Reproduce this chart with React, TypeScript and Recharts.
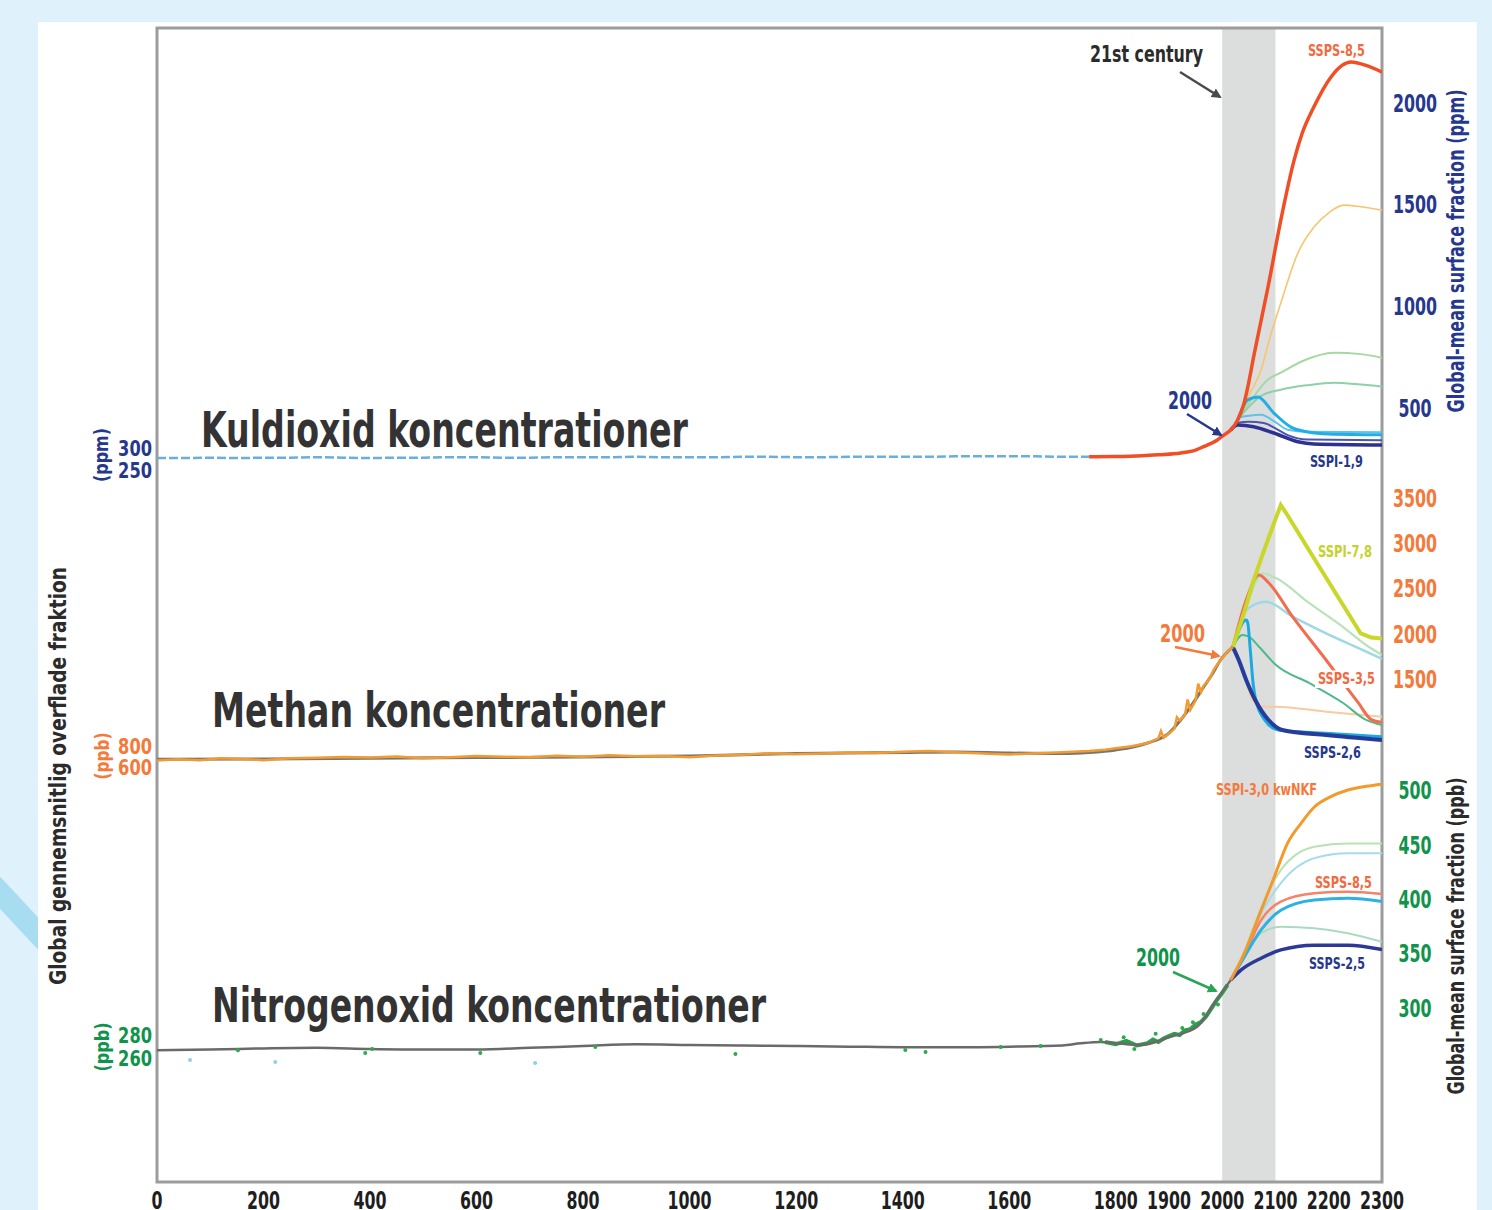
import * as React from "react";
import { ComposedChart, Line, ReferenceArea, Scatter, XAxis, YAxis } from "recharts";

const FONT = '"Liberation Sans Narrow", "DejaVu Sans Condensed", sans-serif';
const NAVY = "#26388d";
const ORANGE = "#f47a3c";
const RED_TXT = "#f26a3f";
const GREEN = "#10934a";
const LIME = "#c3d22c";
const INK = "#2b2b2b";

const xTicks = [0, 200, 400, 600, 800, 1000, 1200, 1400, 1600, 1800, 1900, 2000, 2100, 2200, 2300];

// CO2 (ppm) - pre-industrial record read against the small left scale
const co2Historic = [
  [0, 277], [50, 277], [100, 278], [150, 277], [200, 278], [250, 278], [300, 279], [350, 278],
  [400, 277], [450, 278], [500, 278], [550, 279], [600, 279], [650, 278], [700, 278], [750, 279],
  [800, 279], [850, 279], [900, 280], [950, 279], [1000, 279], [1050, 279], [1100, 280], [1150, 280],
  [1200, 279], [1250, 279], [1300, 280], [1350, 280], [1400, 280], [1450, 280], [1500, 281],
  [1550, 281], [1600, 281], [1650, 281], [1700, 280], [1750, 280]
];
// scenarios, right scale
const co2Ssp585 = [
  [1750, 260], [1800, 261], [1850, 265], [1880, 270], [1922, 279], [1950, 293], [1965, 310],
  [1991, 343], [2003, 367], [2016, 392], [2029, 441], [2041, 524], [2048, 603], [2060, 765],
  [2073, 930], [2086, 1095], [2110, 1424], [2135, 1719], [2150, 1850], [2172, 1980], [2204, 2127],
  [2225, 2185], [2242, 2202], [2270, 2185], [2300, 2152]
];
const co2Ssp370 = [[2029, 441], [2041, 505], [2050, 560], [2073, 687], [2090, 850], [2110, 1016], [2142, 1262], [2172, 1389], [2200, 1460], [2228, 1498], [2260, 1490], [2300, 1473]];
const co2GreenHigh = [[2029, 441], [2041, 490], [2059, 556], [2086, 640], [2110, 674], [2150, 730], [2210, 772], [2260, 765], [2300, 747]];
const co2GreenLow = [[2029, 441], [2041, 480], [2059, 530], [2073, 560], [2110, 590], [2160, 612], [2210, 624], [2260, 615], [2300, 605]];
const co2Ssp126 = [[2029, 441], [2048, 540], [2067, 554], [2097, 475], [2129, 406], [2161, 382], [2200, 372], [2300, 368]];
const co2CyanThin = [[2029, 441], [2035, 455], [2050, 462], [2073, 467], [2100, 430], [2123, 393], [2160, 383], [2300, 381]];
const co2NavyThin = [[2025, 425], [2050, 432], [2078, 426], [2100, 400], [2123, 367], [2160, 345], [2300, 342]];
const co2Ssp119 = [[2016, 392], [2029, 416], [2059, 408], [2097, 377], [2142, 334], [2172, 323], [2300, 318]];

// Methane (ppb) - records on the left scale
const ch4Smooth = [
  [0, 680], [200, 684], [400, 690], [600, 696], [800, 702], [1000, 711], [1200, 735], [1400, 745],
  [1500, 750], [1600, 740], [1700, 735], [1750, 745], [1800, 769], [1860, 835], [1900, 930],
  [1922, 1054], [1950, 1250], [1965, 1368], [1980, 1480], [1997, 1626], [2020, 1750]
];
const ch4Records = [
  [0, 668], [40, 680], [80, 672], [120, 690], [160, 684], [200, 672], [250, 690], [300, 695],
  [350, 702], [400, 698], [450, 706], [500, 690], [550, 700], [600, 712], [650, 704], [700, 700],
  [750, 714], [800, 705], [850, 718], [900, 710], [950, 712], [1000, 700], [1050, 716], [1100, 724],
  [1150, 738], [1200, 728], [1250, 736], [1300, 745], [1350, 740], [1400, 752], [1450, 760],
  [1500, 746], [1550, 736], [1600, 726], [1650, 738], [1700, 748], [1750, 760], [1780, 772],
  [1800, 785], [1830, 805], [1860, 835], [1880, 880], [1885, 950], [1890, 885], [1900, 925],
  [1910, 970], [1915, 1080], [1920, 1050], [1930, 1100], [1935, 1250], [1940, 1150], [1950, 1240],
  [1955, 1400], [1960, 1320], [1965, 1380], [1975, 1440], [1985, 1540], [1997, 1626], [2010, 1705],
  [2020, 1750]
];
// scenarios, right scale
const ch4Ssp370 = [[2020, 1855], [2041, 2232], [2059, 2597], [2080, 2950], [2100, 3273], [2110, 3429], [2120, 3340], [2142, 3130], [2170, 2860], [2200, 2575], [2230, 2290], [2260, 2005], [2280, 1960], [2300, 1950]];
const ch4Ssp585 = [[2020, 1855], [2045, 2376], [2069, 2653], [2088, 2561], [2132, 2191], [2195, 1711], [2255, 1240], [2280, 1050], [2300, 1020]];
const ch4LightGreen = [[2020, 1855], [2045, 2300], [2076, 2672], [2101, 2620], [2163, 2343], [2226, 2080], [2270, 1877], [2300, 1766]];
const ch4LightTeal = [[2020, 1855], [2045, 2265], [2082, 2357], [2132, 2191], [2195, 2007], [2257, 1840], [2300, 1722]];
const ch4Green = [[2020, 1855], [2038, 1988], [2050, 1970], [2069, 1858], [2101, 1655], [2163, 1456], [2227, 1234], [2270, 1046], [2300, 990]];
const ch4LightOrange = [[2048, 1420], [2057, 1267], [2075, 1193], [2101, 1193], [2195, 1137], [2300, 1082]];
const ch4Ssp126 = [[2020, 1855], [2045, 2154], [2048, 2120], [2053, 1800], [2058, 1450], [2063, 1267], [2080, 1045], [2105, 935], [2195, 898], [2300, 860]];
const ch4Ssp119 = [[2020, 1855], [2031, 1711], [2045, 1490], [2062, 1267], [2087, 1045], [2113, 935], [2195, 879], [2300, 825]];

// Nitrous oxide (ppb) - records on the left scale
const n2oSmooth = [
  [0, 267], [100, 267.5], [200, 268.5], [300, 269], [400, 268], [500, 267.5], [600, 267.5],
  [700, 269], [800, 270.5], [900, 272], [1000, 271.5], [1100, 271], [1200, 270.5], [1300, 270],
  [1400, 269.5], [1500, 269.5], [1600, 270], [1700, 271], [1734, 272.8], [1772, 274], [1847, 271.4],
  [1903, 278.5], [1953, 287], [1984, 307], [2016, 327]
];
const n2oRecords = [
  [1780, 274], [1800, 272], [1820, 275], [1840, 271], [1860, 273], [1870, 276], [1880, 274],
  [1890, 277], [1900, 279], [1910, 281], [1920, 280], [1930, 284], [1940, 285], [1950, 289],
  [1960, 291], [1970, 296], [1980, 303], [1990, 310], [2000, 316], [2010, 323]
];
const n2oSamples = [
  [152, 267], [391, 264.5], [404, 268], [607, 264.5], [823, 269.7], [1086, 263.7], [1405, 267.1],
  [1443, 265.4], [1584, 269.7], [1659, 270.5], [1772, 275.7], [1815, 278], [1835, 268], [1875, 281],
  [1925, 286], [1945, 291], [1965, 298], [1992, 306]
];
const n2oFirnSamples = [[62, 258.5], [222, 256.8], [710, 256]];
// scenarios, right scale
const n2oSsp370 = [[2016, 326], [2040, 349], [2073, 390], [2098, 421], [2123, 452], [2148, 470], [2173, 485], [2204, 494.5], [2236, 500.6], [2270, 504], [2300, 506]];
const n2oGreenHigh = [[2016, 326], [2040, 350], [2066, 384], [2110, 427], [2173, 448.5], [2236, 451.5], [2300, 451.5]];
const n2oCyanLight = [[2016, 326], [2040, 348], [2066, 380], [2110, 415], [2173, 438], [2236, 442.5], [2300, 442.5]];
const n2oSsp585 = [[2016, 326], [2040, 347], [2073, 381], [2110, 398], [2173, 405.7], [2236, 407], [2300, 405]];
const n2oCyan = [[2016, 326], [2040, 346], [2073, 372], [2110, 390], [2173, 399.5], [2236, 401], [2300, 398]];
const n2oGreenLow = [[2016, 326], [2040, 345], [2073, 369], [2110, 375], [2173, 373.5], [2236, 369], [2300, 361]];
const n2oSsp245 = [[2016, 326], [2035, 335], [2073, 346], [2110, 353.6], [2173, 358], [2236, 358], [2300, 354]];

const rows = (pairs: number[][]) => pairs.map(([year, v]) => ({ year, v }));

type Series = { data: number[][]; color: string; width: number; axis: "l" | "r"; curve?: "monotone" | "linear"; dash?: string };

function RightTick({ x, y, payload, fill }: any) {
  const s = String(payload.value);
  return (
    <text x={x + 33} y={y} dy="0.36em" textAnchor="middle" fill={fill} fontFamily={FONT} fontWeight={700} fontSize={24} textLength={s.length * 11} lengthAdjust="spacingAndGlyphs">
      {s}
    </text>
  );
}

function LeftTick({ x, y, payload, fill }: any) {
  const s = String(payload.value);
  return (
    <text x={x - 5} y={y} dy="0.36em" textAnchor="end" fill={fill} fontFamily={FONT} fontWeight={700} fontSize={21} textLength={s.length * 11.3} lengthAdjust="spacingAndGlyphs">
      {s}
    </text>
  );
}

function BottomTick({ x, y, payload }: any) {
  const s = String(payload.value);
  return (
    <text x={x} y={y + 27} textAnchor="middle" fill="#1e1e1e" fontFamily={FONT} fontWeight={700} fontSize={24} textLength={s.length * 11} lengthAdjust="spacingAndGlyphs">
      {s}
    </text>
  );
}

interface PanelProps {
  leftDomain: number[];
  rightDomain: number[];
  leftTicks: number[];
  rightTicks: number[];
  leftColor: string;
  rightColor: string;
  series: Series[];
  base?: boolean;
  samples?: { data: number[][]; color: string }[];
}

function Panel({ leftDomain, rightDomain, leftTicks, rightTicks, leftColor, rightColor, series, base, samples }: PanelProps) {
  return (
    <div style={{ position: "absolute", left: 0, top: 0 }}>
      <ComposedChart width={1492} height={1210} margin={{ top: 28, right: 50, bottom: 0, left: 97 }}>
        <XAxis
          dataKey="year"
          type="number"
          domain={[0, 2300]}
          ticks={xTicks}
          interval={0}
          height={28}
          tickSize={0}
          tickMargin={0}
          axisLine={false}
          tickLine={false}
          tick={base ? <BottomTick /> : false}
          allowDataOverflow
        />
        <YAxis yAxisId="l" orientation="left" type="number" width={60} domain={leftDomain} ticks={leftTicks} interval={0} tickSize={0} tickMargin={0} axisLine={false} tickLine={false} tick={<LeftTick fill={leftColor} />} allowDataOverflow />
        <YAxis yAxisId="r" orientation="right" type="number" width={60} domain={rightDomain} ticks={rightTicks} interval={0} tickSize={0} tickMargin={0} axisLine={false} tickLine={false} tick={<RightTick fill={rightColor} />} allowDataOverflow />
        {base && (
          <ReferenceArea yAxisId="r" x1={2000} x2={2100} y1={rightDomain[0]} y2={rightDomain[1]} fill="#dcdedd" fillOpacity={1} stroke="none" />
        )}
        {base && (
          <ReferenceArea yAxisId="r" x1={0} x2={2300} y1={rightDomain[0]} y2={rightDomain[1]} fill="none" stroke="#9c9c9c" strokeWidth={3} />
        )}
        {(samples ?? []).map((s, i) => (
          <Scatter
            key={"s" + i}
            yAxisId="l"
            data={rows(s.data)}
            dataKey="v"
            isAnimationActive={false}
            shape={(p: any) => <circle cx={p.cx} cy={p.cy} r={2} fill={s.color} />}
          />
        ))}
        {series.map((s, i) => (
          <Line
            key={i}
            yAxisId={s.axis}
            data={rows(s.data)}
            dataKey="v"
            type={s.curve ?? "monotone"}
            stroke={s.color}
            strokeWidth={s.width}
            strokeDasharray={s.dash}
            dot={false}
            activeDot={false}
            isAnimationActive={false}
          />
        ))}
      </ComposedChart>
    </div>
  );
}

function Txt({ x, y, w, size, fill, children, rotate, box }: any) {
  if (rotate) {
    return (
      <text transform={`translate(${x},${y}) rotate(-90)`} textAnchor="middle" fill={fill} fontFamily={FONT} fontWeight={700} fontSize={size} textLength={w} lengthAdjust="spacingAndGlyphs">
        {children}
      </text>
    );
  }
  return (
    <g>
      {box && <rect x={x - 3} y={y - size * 0.85} width={w + 6} height={size * 1.1} fill="#ffffff" />}
      <text x={x} y={y} fill={fill} fontFamily={FONT} fontWeight={700} fontSize={size} textLength={w} lengthAdjust="spacingAndGlyphs">
        {children}
      </text>
    </g>
  );
}

function Arrow({ x1, y1, x2, y2, color, id }: any) {
  return <line x1={x1} y1={y1} x2={x2} y2={y2} stroke={color} strokeWidth={2.5} markerEnd={`url(#${id})`} />;
}

export default function App() {
  const co2Series: Series[] = [
    { data: co2Ssp370, color: "#f9c46f", width: 1.6, axis: "r" },
    { data: co2GreenHigh, color: "#a5d9a2", width: 2, axis: "r" },
    { data: co2GreenLow, color: "#8ed0a8", width: 2, axis: "r" },
    { data: co2CyanThin, color: "#5cc3ea", width: 2, axis: "r" },
    { data: co2NavyThin, color: "#4b55ad", width: 2, axis: "r" },
    { data: co2Ssp126, color: "#22aee4", width: 3, axis: "r" },
    { data: co2Ssp119, color: "#2e3190", width: 3.5, axis: "r" },
    { data: co2Ssp585, color: "#f04e25", width: 3.5, axis: "r" },
    { data: co2Historic, color: "#6aaedd", width: 2.5, axis: "l", curve: "linear", dash: "9 3" }
  ];
  const ch4Series: Series[] = [
    { data: ch4LightOrange, color: "#f8cba0", width: 2, axis: "r" },
    { data: ch4Green, color: "#4fb98a", width: 2, axis: "r" },
    { data: ch4LightGreen, color: "#b9e2bb", width: 2.2, axis: "r" },
    { data: ch4LightTeal, color: "#9fd8e3", width: 2.5, axis: "r" },
    { data: ch4Ssp126, color: "#1ea8e1", width: 3, axis: "r" },
    { data: ch4Ssp119, color: "#253c9b", width: 4, axis: "r" },
    { data: ch4Ssp585, color: "#f26d50", width: 3, axis: "r" },
    { data: ch4Ssp370, color: "#c9d62a", width: 4, axis: "r", curve: "linear" },
    { data: ch4Smooth, color: "#767676", width: 3, axis: "l" },
    { data: ch4Records, color: "#f39b2f", width: 2.5, axis: "l", curve: "linear" }
  ];
  const n2oSeries: Series[] = [
    { data: n2oRecords, color: "#27a04a", width: 4, axis: "l", curve: "linear" },
    { data: n2oSmooth, color: "#6a6a6a", width: 2.5, axis: "l" },
    { data: n2oGreenHigh, color: "#b7e3b3", width: 2, axis: "r" },
    { data: n2oCyanLight, color: "#a5dbea", width: 2, axis: "r" },
    { data: n2oGreenLow, color: "#a8dcc0", width: 2, axis: "r" },
    { data: n2oSsp585, color: "#f5836c", width: 2.5, axis: "r" },
    { data: n2oCyan, color: "#2db1e5", width: 3, axis: "r" },
    { data: n2oSsp245, color: "#2d3a95", width: 3.5, axis: "r" },
    { data: n2oSsp370, color: "#f39a2b", width: 3, axis: "r" }
  ];

  return (
    <div style={{ position: "absolute", left: 0, top: 0, width: 1492, height: 1210, overflow: "hidden", background: "#dff1fa" }}>
      <div style={{ position: "absolute", left: -52, top: 901, width: 140, height: 22, background: "#a7dcf1", transform: "rotate(47deg)" }} />
      <div style={{ position: "absolute", left: 38, top: 22, width: 1439, height: 1188, background: "#ffffff" }} />

      <Panel
        base
        leftDomain={[-1368.2, 1254.5]}
        rightDomain={[-3306.6, 2368.9]}
        leftTicks={[250, 300]}
        rightTicks={[500, 1000, 1500, 2000]}
        leftColor={NAVY}
        rightColor={NAVY}
        series={co2Series}
      />
      <Panel
        leftDomain={[-3345.7, 7644.8]}
        rightDomain={[-4076.5, 8717.3]}
        leftTicks={[600, 800]}
        rightTicks={[1500, 2000, 2500, 3000, 3500]}
        leftColor={ORANGE}
        rightColor={ORANGE}
        series={ch4Series}
      />
      <Panel
        leftDomain={[154.0, 1142.9]}
        rightDomain={[140.3, 1201.0]}
        leftTicks={[260, 280]}
        rightTicks={[300, 350, 400, 450, 500]}
        leftColor={GREEN}
        rightColor={GREEN}
        series={n2oSeries}
        samples={[
          { data: n2oSamples, color: "#2fa84f" },
          { data: n2oFirnSamples, color: "#8fd0ea" }
        ]}
      />

      <svg width={1492} height={1210} style={{ position: "absolute", left: 0, top: 0, pointerEvents: "none" }}>
        <defs>
          {[["aGray", "#4a4a4a"], ["aNavy", NAVY], ["aOrange", ORANGE], ["aGreen", "#2aa556"]].map(([id, c]) => (
            <marker key={id} id={id} viewBox="0 0 10 10" refX="8" refY="5" markerWidth="4" markerHeight="4" orient="auto">
              <path d="M0,0 L10,5 L0,10 z" fill={c} />
            </marker>
          ))}
        </defs>

        <Txt x={201} y={447} w={487} size={50} fill="#333333">Kuldioxid koncentrationer</Txt>
        <Txt x={212} y={727} w={453} size={48} fill="#333333">Methan koncentrationer</Txt>
        <Txt x={212} y={1022} w={554} size={48} fill="#333333">Nitrogenoxid koncentrationer</Txt>

        <Txt x={1090} y={62} w={113} size={23} fill={INK}>21st century</Txt>
        <Arrow x1={1180} y1={72} x2={1220} y2={97} color="#4a4a4a" id="aGray" />

        <Txt x={1308} y={56} w={57} size={16} fill={RED_TXT}>SSPS-8,5</Txt>
        <Txt x={1310} y={467} w={53} size={16} fill={NAVY}>SSPI-1,9</Txt>
        <Txt x={1318} y={557} w={54} size={16} fill={LIME}>SSPI-7,8</Txt>
        <Txt x={1318} y={684} w={57} size={16} fill={RED_TXT} box>SSPS-3,5</Txt>
        <Txt x={1304} y={758} w={57} size={16} fill={NAVY}>SSPS-2,6</Txt>
        <Txt x={1216} y={795} w={101} size={16} fill={ORANGE}>SSPI-3,0 kwNKF</Txt>
        <Txt x={1315} y={888} w={57} size={16} fill={RED_TXT}>SSPS-8,5</Txt>
        <Txt x={1309} y={969} w={56} size={16} fill={NAVY}>SSPS-2,5</Txt>

        <Txt x={1168} y={409} w={44} size={24} fill={NAVY}>2000</Txt>
        <Arrow x1={1187} y1={414} x2={1221} y2={435} color={NAVY} id="aNavy" />
        <Txt x={1160} y={642} w={45} size={24} fill={ORANGE}>2000</Txt>
        <Arrow x1={1175} y1={647} x2={1219} y2={656} color={ORANGE} id="aOrange" />
        <Txt x={1136} y={966} w={44} size={24} fill={GREEN}>2000</Txt>
        <Arrow x1={1173} y1={972} x2={1216} y2={991} color="#2aa556" id="aGreen" />

        <Txt rotate x={66} y={776} w={418} size={23} fill={INK}>Global gennemsnitlig overflade fraktion</Txt>
        <Txt rotate x={1464} y={251} w={323} size={23} fill={NAVY}>Global-mean surface fraction (ppm)</Txt>
        <Txt rotate x={1464} y={936} w={317} size={23} fill={INK}>Global-mean surface fraction (ppb)</Txt>

        <Txt rotate x={108} y={455} w={54} size={20} fill={NAVY}>(ppm)</Txt>
        <Txt rotate x={109} y={756} w={47} size={20} fill={ORANGE}>(ppb)</Txt>
        <Txt rotate x={109} y={1047} w={49} size={20} fill={GREEN}>(ppb)</Txt>
      </svg>
    </div>
  );
}
